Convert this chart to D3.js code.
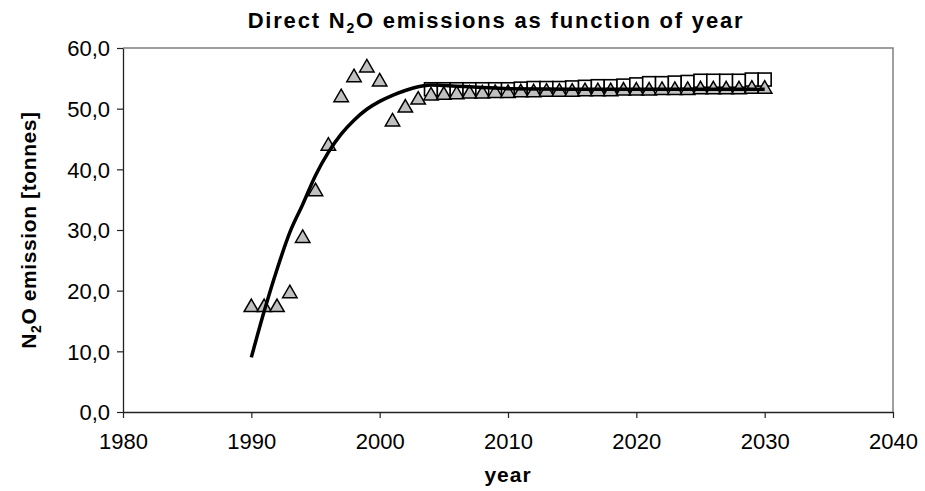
<!DOCTYPE html>
<html><head><meta charset="utf-8">
<script src="https://cdn.jsdelivr.net/npm/d3@7"></script>
<style>body{margin:0;background:#fff}svg{display:block}text{font-family:"Liberation Sans",Arial,sans-serif}</style>
</head><body><svg id="c" width="925" height="491"></svg>
<script>
const xTicks = [1980, 1990, 2000, 2010, 2020, 2030, 2040];
const yTicks = [0, 10, 20, 30, 40, 50, 60];

const triYears = [1990,1991,1992,1993,1994,1995,1996,1997,1998,1999,2000,2001,2002,2003,2004,2005,2006,2007,2008,2009,2010,2011,2012,2013,2014,2015,2016,2017,2018,2019,2020,2021,2022,2023,2024,2025,2026,2027,2028,2029,2030];
const triValues = [17.4,17.4,17.4,19.7,28.8,36.5,44.0,52.0,55.3,56.9,54.6,48.0,50.3,51.6,52.3,52.4,52.5,52.6,52.6,52.7,52.7,52.8,52.8,52.9,52.9,52.9,53.0,53.0,53.0,53.1,53.1,53.1,53.2,53.2,53.2,53.3,53.3,53.3,53.3,53.4,53.4];

const sqYears = [2004,2005,2006,2007,2008,2009,2010,2011,2012,2013,2014,2015,2016,2017,2018,2019,2020,2021,2022,2023,2024,2025,2026,2027,2028,2029,2030];
const sqValues = [53.2,53.2,53.2,53.2,53.2,53.2,53.2,53.3,53.4,53.4,53.4,53.5,53.6,53.7,53.7,53.8,54.0,54.2,54.2,54.3,54.4,54.6,54.6,54.6,54.6,54.8,54.8];

const lineYears = [1990,1991,1992,1993,1994,1995,1996,1997,1998,1999,2000,2001,2002,2003,2004,2005,2006,2007,2008,2009,2010,2015,2020,2025,2030];
const lineValues = [9.0,16.6,23.5,29.6,34.2,39.0,42.8,45.8,48.1,49.9,51.2,52.2,53.0,53.6,53.9,53.8,53.7,53.6,53.5,53.4,53.3,53.2,53.2,53.2,53.2];

const svg = d3.select("#c");
const L = 123, R = 893, T = 48, B = 412;
const x = d3.scaleLinear().domain([1980, 2040]).range([L, R]);
const y = d3.scaleLinear().domain([0, 60]).range([B, T]);
const fmt = v => d3.format(".1f")(v).replace(".", ",");

// plot border (top/right gray)
svg.append("path").attr("d", `M${L},${T}H${R}V${B}`).attr("fill","none").attr("stroke","#808080").attr("stroke-width",1.5);

const xAxis = svg.append("g").attr("transform", `translate(0,${B})`)
  .call(d3.axisBottom(x).tickValues(xTicks).tickFormat(d3.format("d")).tickSize(6).tickSizeOuter(0));
const yAxis = svg.append("g").attr("transform", `translate(${L},0)`)
  .call(d3.axisLeft(y).tickValues(yTicks).tickFormat(fmt).tickSize(6).tickSizeOuter(0));
[xAxis, yAxis].forEach(g => {
  g.select(".domain").attr("stroke","#222").attr("stroke-width",1.3);
  g.selectAll(".tick line").attr("stroke","#222").attr("stroke-width",1.2);
  g.selectAll(".tick text").attr("font-size",22).attr("fill","#000").attr("font-family","Liberation Sans, Arial, sans-serif");
});
xAxis.selectAll(".tick text").attr("y",37).attr("dy",0);
yAxis.selectAll(".tick text").attr("x",-13).attr("dy","0.36em");

// squares
const s = 13;
svg.append("g").selectAll("rect").data(sqYears).join("rect")
  .attr("x", (d,i) => x(d) - s/2).attr("y", (d,i) => y(sqValues[i]) - s/2)
  .attr("width", s).attr("height", s)
  .attr("fill","#fff").attr("stroke","#000").attr("stroke-width",1.6);

// triangles
const tri = d3.symbol().type(d3.symbolTriangle).size(90);
svg.append("g").selectAll("path").data(triYears).join("path")
  .attr("d", tri)
  .attr("transform", (d,i) => `translate(${x(d)},${y(triValues[i]) + 1})`)
  .attr("fill","#c0c0c0").attr("stroke","#000").attr("stroke-width",1.5);

// line
const line = d3.line().x((d,i) => x(d)).y((d,i) => y(lineValues[i])).curve(d3.curveMonotoneX);
svg.append("path").datum(lineYears).attr("d", line)
  .attr("fill","none").attr("stroke","#000").attr("stroke-width",3.5).attr("stroke-linejoin","round");

// title
const title = svg.append("text").attr("x", 496).attr("y", 28).attr("text-anchor","middle")
  .attr("font-size",22).attr("font-weight","bold").attr("letter-spacing","1.8");
title.append("tspan").text("Direct N");
title.append("tspan").text("2").attr("font-size",14).attr("dy",5);
title.append("tspan").text("O emissions as function of year").attr("dy",-5);

// x title
svg.append("text").attr("x", (L+R)/2).attr("y", 482).attr("text-anchor","middle")
  .attr("font-size",21).attr("font-weight","bold").attr("letter-spacing","1").text("year");

// y title
const yt = svg.append("text").attr("transform", `translate(36,${(T+B)/2}) rotate(-90)`).attr("text-anchor","middle")
  .attr("font-size",21).attr("font-weight","bold").attr("letter-spacing","0.6");
yt.append("tspan").text("N");
yt.append("tspan").text("2").attr("font-size",14).attr("dy",5);
yt.append("tspan").text("O emission [tonnes]").attr("dy",-5);
</script></body></html>
